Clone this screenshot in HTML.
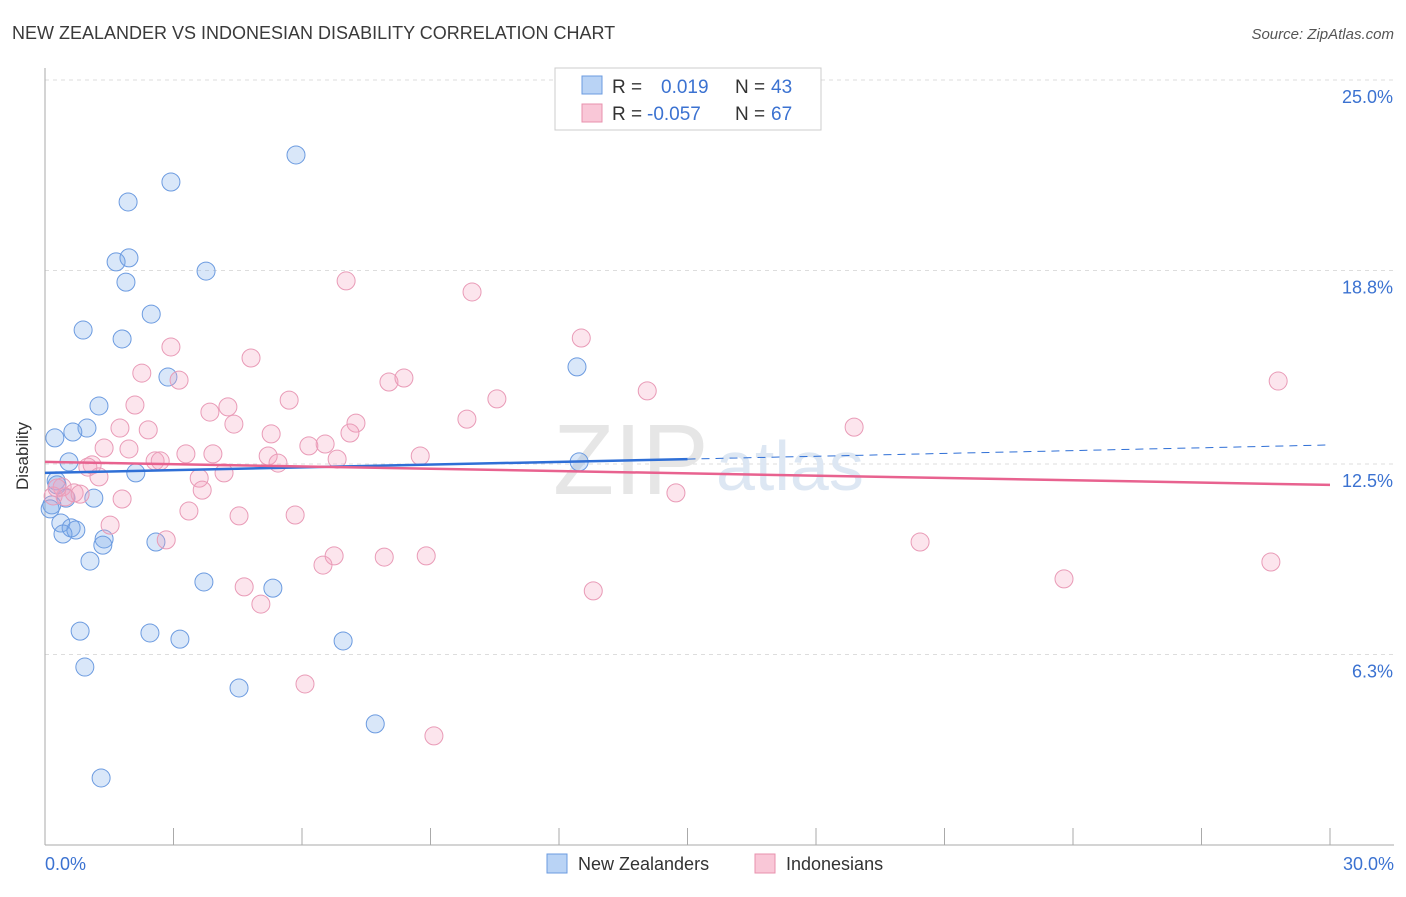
<!DOCTYPE html>
<html><head><meta charset="utf-8"><style>
body{margin:0;background:#fff;font-family:"Liberation Sans",sans-serif;}
svg text{font-family:"Liberation Sans",sans-serif;}
</style></head><body>
<svg id="chart" width="1406" height="892">
<text x="12" y="39" font-size="18" fill="#3a3a3a">NEW ZEALANDER VS INDONESIAN DISABILITY CORRELATION CHART</text>
<text x="1394" y="39" font-size="15" fill="#555" font-style="italic" text-anchor="end">Source: ZipAtlas.com</text>
<text x="28" y="456" font-size="17" fill="#333" text-anchor="middle" transform="rotate(-90 28 456)">Disability</text>
<g id="grid"></g>
<text x="553" y="494" font-size="100" fill="#e6e6e6" font-family="Liberation Serif">ZIP</text>
<text x="716" y="490" font-size="70" fill="#dde7f3">atlas</text>
<g id="marks"></g>
<g>
<rect x="555" y="68" width="266" height="62" fill="#fff" stroke="#ccc"/>
<rect x="582" y="76" width="20" height="18" fill="#b9d3f5" stroke="#6b9be0"/>
<rect x="582" y="104" width="20" height="18" fill="#f9c7d7" stroke="#e891ae"/>
<text x="612" y="93" font-size="19" fill="#333">R =</text>
<text x="661" y="93" font-size="19" fill="#3b72d1">0.019</text>
<text x="735" y="93" font-size="19" fill="#333">N =</text>
<text x="771" y="93" font-size="19" fill="#3b72d1">43</text>
<text x="612" y="120" font-size="19" fill="#333">R =</text>
<text x="647" y="120" font-size="19" fill="#3b72d1">-0.057</text>
<text x="735" y="120" font-size="19" fill="#333">N =</text>
<text x="771" y="120" font-size="19" fill="#3b72d1">67</text>
</g>
<g>
<rect x="547" y="854" width="20" height="19" fill="#b9d3f5" stroke="#6b9be0"/>
<text x="578" y="870" font-size="18" fill="#333">New Zealanders</text>
<rect x="755" y="854" width="20" height="19" fill="#f9c7d7" stroke="#e891ae"/>
<text x="786" y="870" font-size="18" fill="#333">Indonesians</text>
</g>
</svg>
<script>
const blueX=[5.86,2.94,1.94,1.66,1.96,1.89,3.76,2.48,0.89,1.80,2.87,12.42,1.26,0.98,0.65,0.23,0.56,2.12,0.26,1.14,0.49,0.16,0.12,0.37,0.61,0.72,0.42,1.38,1.35,2.59,1.05,3.71,5.32,0.82,2.45,3.15,6.96,0.93,4.53,7.71,1.31,12.47,0.28];
const blueY=[22.56,21.68,21.03,19.08,19.21,18.42,18.78,17.38,16.86,16.57,15.33,15.66,14.39,13.67,13.54,13.35,12.57,12.21,11.95,11.39,11.39,11.17,11.04,10.58,10.42,10.35,10.22,10.06,9.86,9.96,9.34,8.66,8.46,7.06,7.00,6.80,6.74,5.89,5.21,4.04,2.28,12.57,11.82];
const pinkX=[7.03,9.97,12.52,2.94,4.81,2.26,3.13,8.03,8.38,14.06,28.79,5.70,10.55,2.10,3.85,4.27,9.85,7.26,4.41,1.75,2.41,18.89,5.28,7.12,6.54,6.16,1.38,3.29,3.92,1.96,5.21,5.44,8.76,6.82,2.57,2.69,1.10,1.00,1.26,4.18,3.60,3.67,0.40,0.68,0.47,0.19,1.80,14.73,3.36,4.53,5.84,1.52,2.83,20.43,6.75,6.49,7.92,8.90,28.62,4.65,23.79,12.80,5.04,6.07,9.08,0.28,0.82];
const pinkY=[18.46,18.10,16.60,16.31,15.95,15.46,15.23,15.17,15.30,14.88,15.20,14.58,14.62,14.42,14.19,14.36,13.96,13.83,13.80,13.67,13.61,13.70,13.48,13.51,13.15,13.09,13.02,12.83,12.83,12.99,12.76,12.53,12.76,12.66,12.60,12.60,12.47,12.40,12.08,12.21,12.04,11.65,11.75,11.56,11.43,11.46,11.36,11.56,10.97,10.81,10.84,10.51,10.03,9.96,9.51,9.21,9.47,9.51,9.31,8.50,8.76,8.37,7.94,5.34,3.65,11.72,11.52];
const blueTrend=[12.21,12.66,13.12]; // at x=0, 15, 30
const pinkTrend=[12.57,11.82]; // at x=0, 30
const yTicks=[25.0,18.8,12.5,6.3];
const yTickLabels=["25.0%","18.8%","12.5%","6.3%"];
const xTickVals=[0,3,6,9,12,15,18,21,24,27,30];
const xLabels=["0.0%","30.0%"];

const NS="http://www.w3.org/2000/svg";
const X=v=>45+v*1285/30;
const Y=v=>848-v*30.72;
function mk(tag,attrs,parent){const e=document.createElementNS(NS,tag);for(const k in attrs)e.setAttribute(k,attrs[k]);parent.appendChild(e);return e;}
const grid=document.getElementById('grid'),marks=document.getElementById('marks');
yTicks.forEach((t,i)=>{
 const l=mk('line',{x1:45,x2:1394,y1:Y(t),y2:Y(t),stroke:'#ddd','stroke-dasharray':'4,4'},grid);
 
 
 const tx=mk('text',{x:1393,y:Y(t)+23,'font-size':18,fill:'#3b72d1','text-anchor':'end'},grid);
 tx.textContent=yTickLabels[i];
 
 
});
const ax=mk('line',{x1:45,x2:45,y1:68,y2:845,stroke:'#aaa'},grid);


const bx=mk('line',{x1:45,x2:1394,y1:845,y2:845,stroke:'#aaa'},grid);


xTickVals.forEach(v=>{
 const t=mk('line',{x1:X(v),x2:X(v),y1:828,y2:845,stroke:'#aaa'},grid);
 
 
});
[[0,'start',45],[30,'end',1394]].forEach((a,i)=>{
 const t=mk('text',{x:a[2],y:870,'font-size':18,fill:'#3b72d1','text-anchor':a[1]},grid);
 t.textContent=xLabels[i];
 
 
});
function pts(xs,ys,fill,stroke,name){
 xs.forEach((x,i)=>{
  const c=mk('circle',{cx:X(x),cy:Y(ys[i]),r:9,fill:fill,stroke:stroke,'stroke-width':1},marks);
  
  
 });
}
pts(blueX,blueY,'rgba(120,170,235,0.28)','#6c9be0','new-zealander-point');
pts(pinkX,pinkY,'rgba(245,160,190,0.28)','#e99bb7','indonesian-point');
let l1=mk('line',{x1:X(0),y1:Y(blueTrend[0]),x2:X(15),y2:Y(blueTrend[1]),stroke:'#2f6fd6','stroke-width':2.5},marks);


let l2=mk('line',{x1:X(15),y1:Y(blueTrend[1]),x2:X(30),y2:Y(blueTrend[2]),stroke:'#2f6fd6','stroke-width':1,'stroke-dasharray':'8,6'},marks);


let l3=mk('line',{x1:X(0),y1:Y(pinkTrend[0]),x2:X(30),y2:Y(pinkTrend[1]),stroke:'#e8628f','stroke-width':2.5},marks);


</script>
</body></html>
